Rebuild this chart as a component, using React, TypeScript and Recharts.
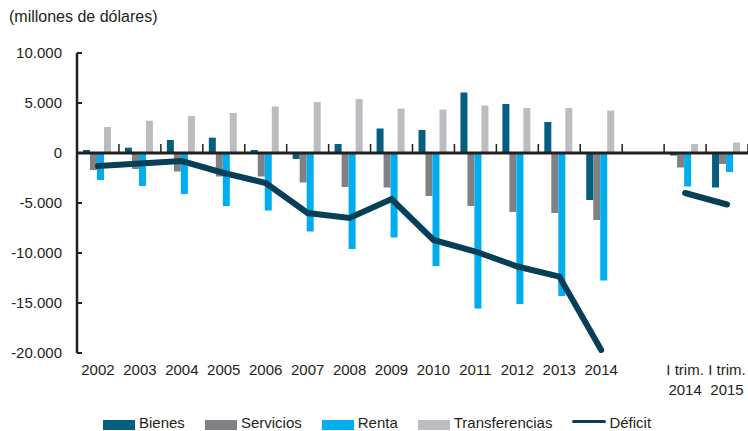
import React from "react";
import {
  ComposedChart,
  Bar,
  Line,
  XAxis,
  YAxis,
  ReferenceLine,
  Legend,
} from "recharts";

// ---- data (millones de dólares) ----
const categories = [
  "2002", "2003", "2004", "2005", "2006", "2007", "2008", "2009",
  "2010", "2011", "2012", "2013", "2014", "", "I trim.\n2014", "I trim.\n2015",
];
const bienes = [300, 530, 1300, 1530, 300, -600, 900, 2450, 2300, 6050, 4900, 3100, -4700, null, -250, -3450];
const servicios = [-1700, -1600, -1850, -2350, -2350, -2950, -3400, -3450, -4300, -5300, -5900, -6000, -6700, null, -1450, -1100];
const renta = [-2700, -3300, -4100, -5300, -5750, -7850, -9600, -8450, -11300, -15550, -15100, -14300, -12750, null, -3350, -1900];
const transferencias = [2600, 3230, 3700, 4000, 4650, 5100, 5400, 4450, 4350, 4750, 4500, 4500, 4250, null, 900, 1050];
const deficit = [-1300, -1050, -800, -2000, -3000, -6000, -6500, -4600, -8700, -9850, -11350, -12350, -19700, null, -4000, -5150];

const yTicks = [10000, 5000, 0, -5000, -10000, -15000, -20000];
const yDomain = [-20000, 10000];
const unitLabel = "(millones de dólares)";

const seriesNames = ["Bienes", "Servicios", "Renta", "Transferencias", "Déficit"];
const seriesColors = ["#045e80", "#808184", "#00aeef", "#bcbdc0", "#073f57"];

const data = categories.map((cat, i) => ({
  cat,
  bienes: bienes[i],
  servicios: servicios[i],
  renta: renta[i],
  transferencias: transferencias[i],
  deficit: deficit[i],
}));

// ---- layout ----
const W = 748;
const H = 431;
const TOP = 53;
const Y_AXIS_W = 77;
const X_AXIS_H = 40;
const BOTTOM = 38;
const PLOT_H = H - TOP - BOTTOM - X_AXIS_H;
const PLOT_W = W - Y_AXIS_W;
const BAND = PLOT_W / categories.length;
const ZERO_Y = TOP + (yDomain[1] / (yDomain[1] - yDomain[0])) * PLOT_H;
const INK = "#231f20";
const FONT = "'Liberation Sans', Arial, Helvetica, sans-serif";

const fmt = (v: number) => {
  const s = Math.abs(v).toString().replace(/\B(?=(\d{3})+(?!\d))/g, ".");
  return (v < 0 ? "-" : "") + s;
};

const XTick = (props: any) => {
  const { x, y, payload } = props;
  const lines = String(payload.value).split("\n");
  const bx = x + BAND / 2;
  return (
    <g>
      <line x1={bx} x2={bx} y1={ZERO_Y} y2={ZERO_Y - 9} stroke={INK} strokeWidth={1.5} />
      <text x={x} y={y} textAnchor="middle" fontSize={15} fill={INK} fontFamily={FONT}>
        {lines.map((l, i) => (
          <tspan key={i} x={x} dy={i === 0 ? 14 : 20}>
            {l}
          </tspan>
        ))}
      </text>
    </g>
  );
};

const LegendContent = () => (
  <div
    style={{
      display: "flex",
      justifyContent: "flex-start",
      alignItems: "center",
      fontFamily: FONT,
      fontSize: 15,
      lineHeight: "15px",
      height: 15,
      color: INK,
      paddingLeft: 103,
    }}
  >
    {seriesNames.map((n, i) => (
      <div key={n} style={{ display: "flex", alignItems: "center", marginRight: i < seriesNames.length - 1 ? 20 : 0 }}>
        {i < 4 ? (
          <span
            style={{
              display: "inline-block",
              width: 32,
              height: 10,
              background: seriesColors[i],
              marginRight: 4,
              position: "relative",
              top: 2,
            }}
          />
        ) : (
          <span
            style={{
              display: "inline-block",
              width: 34,
              height: 3.5,
              background: seriesColors[i],
              marginRight: 3,
              borderRadius: 2,
              position: "relative",
              top: -1,
            }}
          />
        )}
        <span>{n}</span>
      </div>
    ))}
  </div>
);

export default function App() {
  return (
    <div style={{ position: "absolute", left: 0, top: 0, width: W, height: H, background: "#fff" }}>
      <div
        style={{
          position: "absolute",
          left: 9,
          top: 8,
          fontFamily: FONT,
          fontSize: 16,
          color: INK,
          whiteSpace: "nowrap",
        }}
      >
        {unitLabel}
      </div>
      <ComposedChart
        width={W}
        height={H}
        data={data}
        margin={{ top: TOP, right: 0, bottom: BOTTOM, left: 0 }}
        barCategoryGap={6}
        barGap={0}
      >
        <XAxis
          dataKey="cat"
          interval={0}
          axisLine={false}
          tickLine={false}
          height={X_AXIS_H}
          tick={<XTick />}
        />
        <YAxis
          width={Y_AXIS_W}
          domain={yDomain}
          ticks={yTicks}
          tickFormatter={fmt}
          allowDataOverflow
          axisLine={{ stroke: INK, strokeWidth: 2.5 }}
          tickLine={{ stroke: INK, strokeWidth: 2 }}
          tickSize={-5}
          tickMargin={20}
          tick={{ fill: INK, fontSize: 15, fontFamily: FONT }}
        />
        <Bar dataKey="bienes" name={seriesNames[0]} fill={seriesColors[0]} isAnimationActive={false} />
        <Bar dataKey="servicios" name={seriesNames[1]} fill={seriesColors[1]} isAnimationActive={false} />
        <Bar dataKey="renta" name={seriesNames[2]} fill={seriesColors[2]} isAnimationActive={false} />
        <Bar dataKey="transferencias" name={seriesNames[3]} fill={seriesColors[3]} isAnimationActive={false} />
        <ReferenceLine y={0} stroke={INK} strokeWidth={3} />
        <Line
          dataKey="deficit"
          name={seriesNames[4]}
          stroke={seriesColors[4]}
          strokeWidth={6}
          strokeLinecap="round"
          dot={false}
          activeDot={false}
          connectNulls={false}
          isAnimationActive={false}
        />
        <Legend
          layout="horizontal"
          verticalAlign="middle"
          align="center"
          wrapperStyle={{ top: 415, left: 0, width: W, height: 15 }}
          content={<LegendContent />}
        />
      </ComposedChart>
    </div>
  );
}
